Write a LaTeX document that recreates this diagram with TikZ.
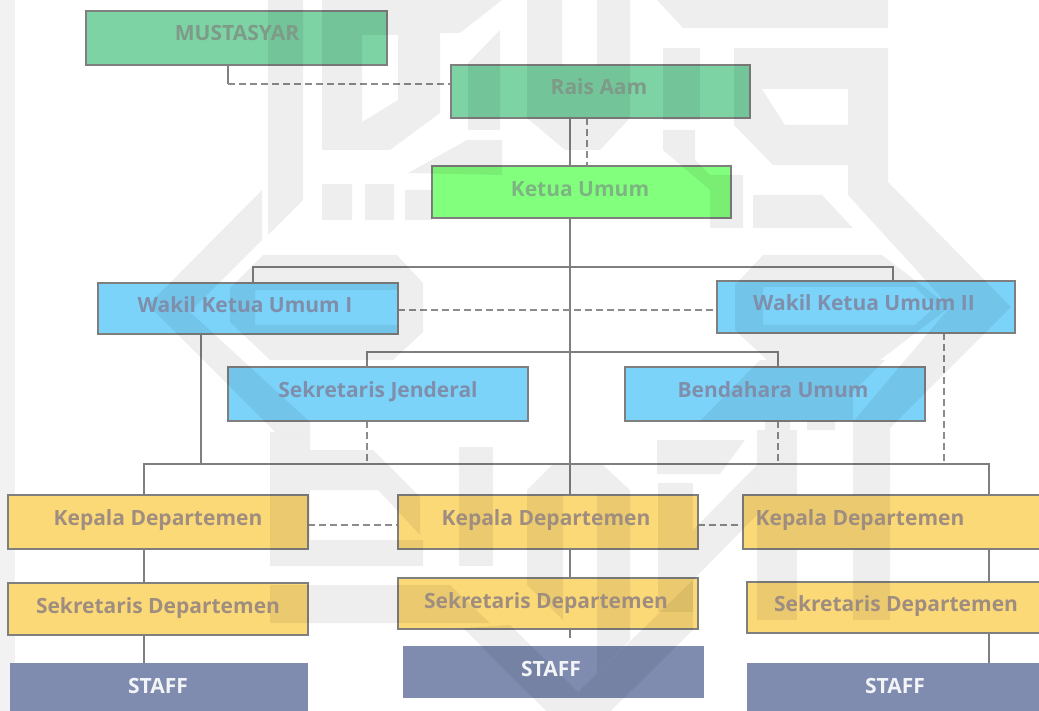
\documentclass[tikz,border=0pt]{standalone}
\usepackage{fontspec}
\setmainfont{Open Sans}
\usetikzlibrary{calc}
\definecolor{cgreen}{HTML}{7DD3A4}
\definecolor{cbright}{HTML}{82FF7C}
\definecolor{cblue}{HTML}{7BD3F9}
\definecolor{cyellow}{HTML}{FCD977}
\definecolor{cslate}{HTML}{7F8CAF}
\definecolor{cedge}{HTML}{7F7F7F}
\definecolor{tgreen}{HTML}{7E9A88}
\definecolor{tbright}{HTML}{7DB582}
\definecolor{tblue}{HTML}{7F8FAB}
\definecolor{tyellow}{HTML}{9F8E80}
\tikzset{
  boxbase/.style={draw=cedge,line width=1.3pt},
  greenbox/.style={boxbase,fill=cgreen},
  brightbox/.style={boxbase,fill=cbright},
  bluebox/.style={boxbase,fill=cblue},
  yellowbox/.style={boxbase,fill=cyellow},
  slatebox/.style={fill=cslate},
  lab/.style={font=\bfseries\fontsize{21}{24}\selectfont,inner sep=0pt,anchor=center,text height=17pt,text depth=1pt},
  solidline/.style={draw=cedge,line width=1.3pt},
  dashline/.style={draw=cedge!90,line width=1.1pt,dash pattern=on 7pt off 4pt},
  wm/.style={fill=black,fill opacity=.065,draw=none,even odd rule},
}
\newcommand{\bx}[6]{%
  \path[#2] (#3,#4) rectangle (#5,#6);
  \coordinate (#1) at ($(#3,#4)!.5!(#5,#6)$);
}
\begin{document}
\begin{tikzpicture}[x=1pt,y=-1pt]
\useasboundingbox (0,0) rectangle (1039,711);
\fill[white] (0,0) rectangle (1039,711);
\fill[black!5!white] (0,0) rectangle (15,711);
% connectors
\coordinate (ja) at (228,84);
\coordinate (jb) at (253,267);
\coordinate (jc) at (893,267);
\coordinate (jd) at (367,352);
\coordinate (je) at (778,352);
\coordinate (jf) at (144,464);
\coordinate (jg) at (989,464);
\draw[solidline] (228,65) -- (ja);
\draw[dashline] (ja) -- (451,84);
\draw[solidline] (570,118) -- (570,495);
\draw[dashline] (587,118) -- (587,166);
\draw[solidline] (253,283) -- (jb) -- (jc) -- (893,281);
\draw[dashline] (398,310) -- (717,310);
\draw[solidline] (367,367) -- (jd) -- (je) -- (778,367);
\draw[solidline] (201,334) -- (201,464);
\draw[dashline] (367,421) -- (367,464);
\draw[dashline] (778,421) -- (778,464);
\draw[dashline] (944,333) -- (944,464);
\draw[solidline] (144,495) -- (jf) -- (jg) -- (989,495);
\draw[dashline] (308,525) -- (398,525);
\draw[dashline] (698,525) -- (743,525);
\draw[solidline] (144,549) -- (144,583);
\draw[solidline] (144,635) -- (144,663);
\draw[solidline] (570,549) -- (570,578);
\draw[solidline] (570,629) -- (570,638);
\draw[solidline] (989,549) -- (989,582);
\draw[solidline] (989,633) -- (989,663);
% boxes
\bx{must}{greenbox}{86}{11}{387}{65}
\bx{rais}{greenbox}{451}{65}{750}{118}
\bx{ketua}{brightbox}{432}{166}{731}{218}
\bx{wa}{bluebox}{98}{283}{398}{334}
\bx{wb}{bluebox}{717}{281}{1015}{333}
\bx{sek}{bluebox}{228}{367}{528}{421}
\bx{ben}{bluebox}{625}{367}{925}{421}
\bx{ka}{yellowbox}{8}{495}{308}{549}
\bx{kb}{yellowbox}{398}{495}{698}{549}
\bx{kc}{yellowbox}{743}{495}{1045}{549}
\bx{sa}{yellowbox}{8}{583}{308}{635}
\bx{sb}{yellowbox}{398}{578}{698}{629}
\bx{sc}{yellowbox}{747}{582}{1045}{633}
\bx{ta}{slatebox}{10}{663}{308}{715}
\bx{tb}{slatebox}{403}{646}{704}{698}
\bx{tc}{slatebox}{747}{663}{1045}{715}
% watermark
\fill[wm] (268,0)--(303,0)--(303,200)--(268,235)--cycle;
\fill[wm] (322,0)--(502,0)--(460,33)--(440,33)--(440,113)--(390,150)--(322,150)--cycle (362,35)--(398,35)--(398,100)--(362,122)--cycle;
\fill[wm] (322,184) rectangle (352,220) (365,184) rectangle (394,220) (405,190) rectangle (432,220);
\fill[wm] (500,30)--(468,63)--(468,130)--(500,130)--cycle;
\fill[wm] (502,140)--(467,140)--(408,173)--(502,175)--cycle;
\fill[wm] (527,0)--(562,0)--(562,65)--(597,65)--(597,0)--(630,0)--(630,118)--(600,150)--(565,150)--(527,118)--cycle;
\fill[wm] (657,0)--(888,0)--(888,28)--(683,28)--cycle;
\fill[wm] (663,48)--(700,48)--(700,120)--(663,120)--cycle;
\fill[wm] (663,130)--(695,130)--(695,160)--(710,175)--(743,175)--(743,228)--(710,228)--(710,190)--(663,150)--cycle;
\fill[wm] (734,48)--(888,48)--(888,182)--(1011,307)--(890,428)--(890,378)--(950,307)--(848,195)--(848,165)--(773,165)--(734,125)--cycle (762,89)--(848,89)--(848,125)--(785,125)--cycle;
\fill[wm] (753,195)--(822,195)--(853,228)--(753,228)--cycle;
\fill[wm] (262,190)--(262,240)--(190,312)--(310,422)--(310,432)--(275,432)--(148,305)--cycle;
\fill[wm] (270,432)--(310,432)--(310,450)--(373,450)--(420,497)--(420,535)--(378,490)--(310,490)--(310,540)--(423,540)--(423,566)--(270,566)--cycle;
\fill[wm] (263,255)--(397,255)--(423,283)--(423,332)--(393,360)--(270,360)--(230,322)--(230,288)--cycle (255,290)--(397,290)--(397,325)--(255,325)--cycle;
\fill[wm] (735,285)--(763,255)--(882,255)--(950,307)--(880,360)--(767,360)--(735,330)--cycle (763,287)--(915,287)--(935,307)--(915,325)--(763,325)--cycle;
\fill[wm] (700,421)--(760,360)--(885,360)--(853,392)--(853,421)--cycle;
\fill[wm] (765,421) rectangle (790,430) (807,421) rectangle (835,430);
\fill[wm] (853,421)--(857,417)--(890,378)--(890,620)--(853,620)--cycle;
\fill[wm] (657,440)--(745,440)--(720,474)--(657,474)--cycle;
\fill[wm] (658,483) rectangle (693,612);
\fill[wm] (693,530)--(757,465)--(757,515)--(693,580)--cycle;
\fill[wm] (757,430) rectangle (797,620);
\fill[wm] (797,495) rectangle (853,550);
\fill[wm] (459,447) rectangle (493,566);
\fill[wm] (527,490)--(552,465)--(603,465)--(630,490)--(630,640)--(597,673)--(597,495)--(563,495)--(563,620)--(527,585)--cycle;
\fill[wm] (463,628)--(578,743)--(693,630)--(693,580)--(578,692)--(510,625)--cycle;
\fill[wm] (270,585)--(450,585)--(490,623)--(270,623)--cycle;
% labels
\node[lab,text=tgreen] (lmust) at (237,33) {MUSTASYAR};
\node[lab,text=tgreen] (lrais) at (599,87) {Rais Aam};
\node[lab,text=tbright] (lket) at (580,189) {Ketua Umum};
\node[lab,text=tblue] (lwa) at (245,305) {Wakil Ketua Umum I};
\node[lab,text=tblue] (lwb) at (864,303) {Wakil Ketua Umum II};
\node[lab,text=tblue] (lsek) at (378,389) {Sekretaris Jenderal};
\node[lab,text=tblue] (lben) at (773,389) {Bendahara Umum};
\node[lab,text=tyellow] (lka) at (158,517) {Kepala Departemen};
\node[lab,text=tyellow] (lkb) at (546,517) {Kepala Departemen};
\node[lab,text=tyellow] (lkc) at (860,517) {Kepala Departemen};
\node[lab,text=tyellow] (lsa) at (158,605) {Sekretaris Departemen};
\node[lab,text=tyellow] (lsb) at (546,600) {Sekretaris Departemen};
\node[lab,text=tyellow] (lsc) at (896,603) {Sekretaris Departemen};
\node[lab,text=white!90!cslate] (lta) at (158,685) {STAFF};
\node[lab,text=white!90!cslate] (ltb) at (551,668) {STAFF};
\node[lab,text=white!90!cslate] (ltc) at (895,685) {STAFF};
\end{tikzpicture}
\end{document}
